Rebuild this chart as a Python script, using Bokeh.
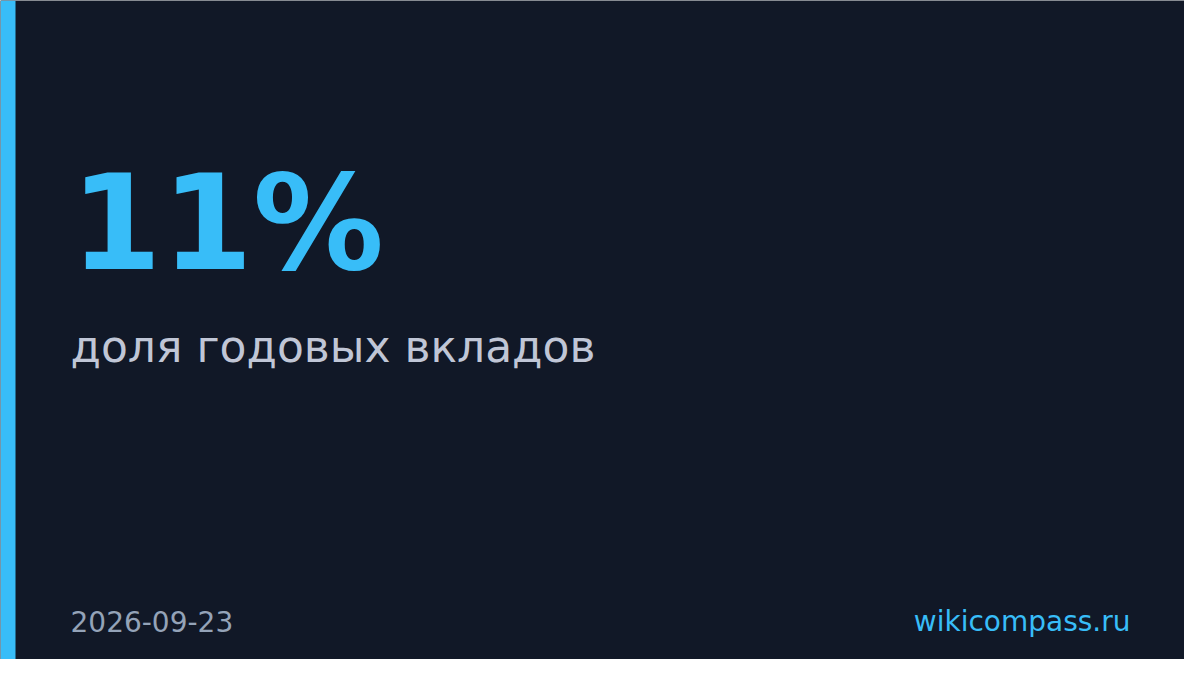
from bokeh.plotting import figure
from bokeh.models import Range1d
from bokeh.core.properties import value
from bokeh.embed import file_html
from bokeh.resources import INLINE

# ---- data ----
headline_value = ["11%"]
headline_label = ["доля годовых вкладов"]
date_label = ["2026-09-23"]
source_label = ["wikicompass.ru"]

BG = "#111827"
ACCENT = "#38bdf8"
SUB = "#c0c6d6"
MUTED = "#94a3b8"
FONT = "DejaVu Sans"

W, H = 1184, 659

p = figure(width=W, height=H, output_backend="svg", toolbar_location=None,
           x_range=Range1d(0, W), y_range=Range1d(H, 0),
           min_border=0, background_fill_color=BG, border_fill_color=BG)
p.axis.visible = False
p.grid.visible = False
p.outline_line_color = None

# left accent bar
p.quad(left=[0], right=[15], bottom=[H], top=[0], fill_color=ACCENT, line_color=None)

p.text(x=[70], y=[223], text=headline_value, text_font=value(FONT),
       text_font_style="bold", text_font_size="131px", text_color=ACCENT,
       text_baseline="alphabetic", text_align="left")

p.text(x=[70], y=[346], text=headline_label, text_font=value(FONT),
       text_font_size="44px", text_color=SUB,
       text_baseline="alphabetic", text_align="left")

p.text(x=[70], y=[621], text=date_label, text_font=value(FONT),
       text_font_size="28px", text_color=MUTED,
       text_baseline="alphabetic", text_align="left")

p.text(x=[1130], y=[621], text=source_label, text_font=value(FONT),
       text_font_size="28px", text_color=ACCENT,
       text_baseline="alphabetic", text_align="right")

open("out.html", "w").write(file_html(p, INLINE))
